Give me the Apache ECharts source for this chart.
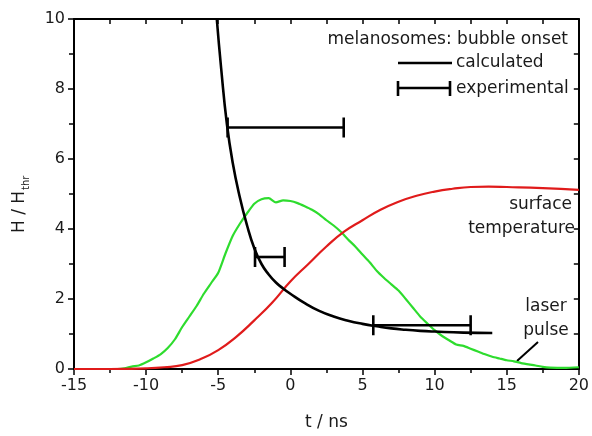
<!DOCTYPE html>
<html>
<head>
<meta charset="utf-8">
<script src="https://cdn.jsdelivr.net/npm/echarts@6/dist/echarts.min.js"></script>
<style>
html,body{margin:0;padding:0;background:#fff;}
#chart{width:592px;height:436px;}
</style>
</head>
<body>
<div id="chart"></div>
<script>
// ---- data ----
const xTicks = [-15, -10, -5, 0, 5, 10, 15, 20];
const yTicks = [0, 2, 4, 6, 8, 10];

const calcT = [-5.1, -4.8, -4.4, -4.0, -3.5, -3.0, -2.5, -2.0, -1.5, -1.0, -0.5, 0, 1, 2, 3, 4, 5, 6, 7, 8, 9, 10, 12, 14];
const calcH = [10.0, 8.6, 7.0, 5.9, 4.9, 4.1, 3.45, 3.0, 2.7, 2.47, 2.3, 2.15, 1.88, 1.66, 1.5, 1.38, 1.29, 1.22, 1.16, 1.12, 1.09, 1.07, 1.04, 1.03];

const tempT = [-15, -12.5, -10, -8.75, -7.5, -6.25, -5, -3.75, -2.5, -1.25, 0, 1.25, 2.5, 3.75, 5, 6.25, 7.5, 8.75, 10, 11.25, 12.5, 13.75, 15, 17.5, 20];
const tempH = [0.0, 0.0, 0.02, 0.05, 0.11, 0.28, 0.54, 0.92, 1.39, 1.9, 2.5, 3.0, 3.5, 3.93, 4.25, 4.55, 4.78, 4.95, 5.07, 5.15, 5.2, 5.21, 5.2, 5.17, 5.12];

const pulseT = [-15, -12, -11.5, -11, -10.5, -10, -9.5, -9, -8.5, -8, -7.5, -7, -6.5, -6, -5.5, -5, -4.5, -4, -3.5, -3, -2.5, -2, -1.5, -1, -0.5, 0, 0.5, 1, 1.5, 2, 2.5, 3, 3.5, 4, 4.5, 5, 5.5, 6, 6.5, 7, 7.5, 8, 8.5, 9, 9.5, 10, 10.5, 11, 11.5, 12, 12.5, 13, 13.5, 14, 14.5, 15, 15.5, 16, 17, 17.5, 18, 19, 20];
const pulseH = [0.0, 0.0, 0.02, 0.07, 0.1, 0.19, 0.3, 0.42, 0.6, 0.85, 1.2, 1.5, 1.8, 2.15, 2.45, 2.75, 3.3, 3.8, 4.15, 4.45, 4.72, 4.85, 4.88, 4.76, 4.82, 4.8, 4.74, 4.65, 4.55, 4.42, 4.25, 4.1, 3.92, 3.7, 3.5, 3.27, 3.05, 2.8, 2.6, 2.42, 2.24, 2.0, 1.75, 1.5, 1.3, 1.11, 0.95, 0.82, 0.7, 0.66, 0.58, 0.5, 0.42, 0.35, 0.3, 0.25, 0.22, 0.17, 0.1, 0.06, 0.04, 0.03, 0.05];

// experimental bubble onset: [t low, t high, H]
const expLow  = [-4.35, -2.45, 5.75];
const expHigh = [3.7, -0.4, 12.5];
const expH    = [6.9, 3.2, 1.25];

const legendTitle = 'melanosomes: bubble onset';
const legendCalc = 'calculated';
const legendExp = 'experimental';
// ---------------------------------------

const zip = (a, b) => a.map((v, i) => [v, b[i]]);
const expData = expLow.map((v, i) => [v, expHigh[i], expH[i]]);

const FONT = 'DejaVu Sans';
const TXT = '#1a1a1a';

const chart = echarts.init(document.getElementById('chart'));
const axisLine = { show: true, onZero: false, lineStyle: { color: '#000', width: 2 } };

chart.setOption({
  animation: false,
  backgroundColor: '#fff',
  grid: { left: 74, right: 13, top: 19, bottom: 64, containLabel: false },
  xAxis: [
    {
      type: 'value', min: xTicks[0], max: xTicks[xTicks.length - 1], interval: 5,
      position: 'bottom', axisLine,
      axisTick: { show: true, inside: false, length: 6, lineStyle: { color: '#000', width: 1.5 } },
      minorTick: { show: true, splitNumber: 2, length: 4, lineStyle: { color: '#000', width: 1.5 } },
      axisLabel: { fontFamily: FONT, fontSize: 16, color: TXT, margin: 9 },
      splitLine: { show: false },
      name: 't / ns', nameLocation: 'middle', nameGap: 45,
      nameTextStyle: { fontFamily: FONT, fontSize: 17, color: TXT }
    },
    {
      type: 'value', min: xTicks[0], max: xTicks[xTicks.length - 1], interval: 2.5,
      position: 'top', axisLine,
      axisTick: { show: true, inside: true, length: 5, lineStyle: { color: '#000', width: 1.5 } },
      axisLabel: { show: false }, splitLine: { show: false }
    }
  ],
  yAxis: [
    {
      type: 'value', min: yTicks[0], max: yTicks[yTicks.length - 1], interval: 2,
      position: 'left', axisLine,
      axisTick: { show: true, inside: false, length: 6, lineStyle: { color: '#000', width: 1.5 } },
      minorTick: { show: true, splitNumber: 2, length: 5, lineStyle: { color: '#000', width: 1.5 } },
      axisLabel: { fontFamily: FONT, fontSize: 16, color: TXT, margin: 9 },
      splitLine: { show: false }
    },
    {
      type: 'value', min: yTicks[0], max: yTicks[yTicks.length - 1], interval: 1,
      position: 'right', axisLine,
      axisTick: { show: true, inside: true, length: 5, lineStyle: { color: '#000', width: 1.5 } },
      axisLabel: { show: false }, splitLine: { show: false }
    }
  ],
  series: [
    {
      name: 'laser pulse', type: 'line', data: zip(pulseT, pulseH),
      showSymbol: false, smooth: 0.2,
      lineStyle: { color: '#2edc2e', width: 2.2 }, z: 2
    },
    {
      name: 'surface temperature', type: 'line', data: zip(tempT, tempH),
      showSymbol: false, smooth: true,
      lineStyle: { color: '#e01b1b', width: 2.2 }, z: 3
    },
    {
      name: legendCalc, type: 'line', data: zip(calcT, calcH),
      showSymbol: false, smooth: 0.5,
      lineStyle: { color: '#000', width: 2.6 }, z: 4
    },
    {
      name: legendExp, type: 'custom', data: expData,
      encode: { x: [0, 1], y: 2 }, z: 5,
      renderItem: function (params, api) {
        const p1 = api.coord([api.value(0), api.value(2)]);
        const p2 = api.coord([api.value(1), api.value(2)]);
        const st = { stroke: '#000', lineWidth: 2.6 };
        const cap = 10;
        return {
          type: 'group',
          children: [
            { type: 'line', shape: { x1: p1[0], y1: p1[1], x2: p2[0], y2: p2[1] }, style: st },
            { type: 'line', shape: { x1: p1[0], y1: p1[1] - cap, x2: p1[0], y2: p1[1] + cap }, style: st },
            { type: 'line', shape: { x1: p2[0], y1: p2[1] - cap, x2: p2[0], y2: p2[1] + cap }, style: st }
          ]
        };
      }
    }
  ],
  graphic: [
    // y-axis title
    {
      type: 'group', x: 20, y: 212, rotation: Math.PI / 2,
      children: [
        { type: 'text', x: 0, y: 0, style: { text: 'H / H', fontFamily: FONT, fontSize: 17, fill: TXT, align: 'center', verticalAlign: 'middle' } },
        { type: 'text', x: 22, y: 6, style: { text: 'thr', fontFamily: FONT, fontSize: 10, fill: TXT, align: 'left', verticalAlign: 'middle' } }
      ]
    },
    // legend
    { type: 'text', x: 568, y: 40, style: { text: legendTitle, fontFamily: FONT, fontSize: 17, fill: TXT, align: 'right', verticalAlign: 'middle' } },
    { type: 'line', shape: { x1: 398, y1: 63, x2: 452, y2: 63 }, style: { stroke: '#000', lineWidth: 2.6 } },
    { type: 'text', x: 456, y: 63, style: { text: legendCalc, fontFamily: FONT, fontSize: 17, fill: TXT, align: 'left', verticalAlign: 'middle' } },
    { type: 'line', shape: { x1: 398, y1: 88, x2: 450, y2: 88 }, style: { stroke: '#000', lineWidth: 2.6 } },
    { type: 'line', shape: { x1: 398, y1: 81, x2: 398, y2: 96 }, style: { stroke: '#000', lineWidth: 2.6 } },
    { type: 'line', shape: { x1: 450, y1: 81, x2: 450, y2: 96 }, style: { stroke: '#000', lineWidth: 2.6 } },
    { type: 'text', x: 456, y: 89, style: { text: legendExp, fontFamily: FONT, fontSize: 17, fill: TXT, align: 'left', verticalAlign: 'middle' } },
    // curve annotations
    { type: 'text', x: 572, y: 205, style: { text: 'surface', fontFamily: FONT, fontSize: 17, fill: TXT, align: 'right', verticalAlign: 'middle' } },
    { type: 'text', x: 575, y: 229, style: { text: 'temperature', fontFamily: FONT, fontSize: 17, fill: TXT, align: 'right', verticalAlign: 'middle' } },
    { type: 'text', x: 546, y: 307, style: { text: 'laser', fontFamily: FONT, fontSize: 17, fill: TXT, align: 'center', verticalAlign: 'middle' } },
    { type: 'text', x: 546, y: 331, style: { text: 'pulse', fontFamily: FONT, fontSize: 17, fill: TXT, align: 'center', verticalAlign: 'middle' } },
    { type: 'line', shape: { x1: 538, y1: 342, x2: 517, y2: 361 }, style: { stroke: '#000', lineWidth: 2 } }
  ]
});
</script>
</body>
</html>
